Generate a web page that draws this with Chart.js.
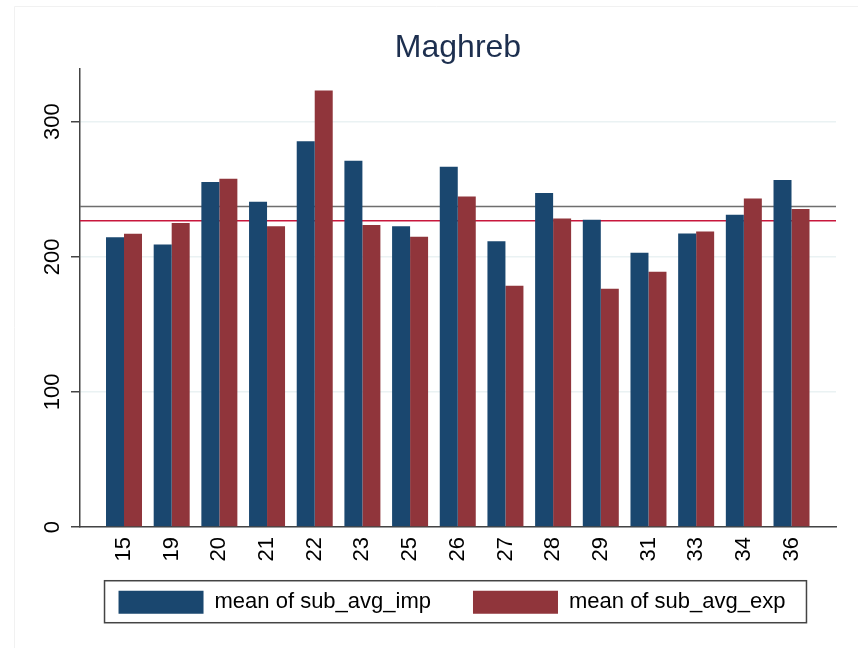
<!DOCTYPE html>
<html>
<head>
<meta charset="utf-8">
<script src="https://cdn.jsdelivr.net/npm/chart.js@4/dist/chart.umd.min.js"></script>
<style>
  html, body { margin: 0; padding: 0; background: #fff; }
  #wrap { width: 858px; height: 648px; }
</style>
</head>
<body>
<div id="wrap"><canvas id="maghrebChart" width="858" height="648"></canvas></div>
<script>
// values
const categories = ['15', '19', '20', '21', '22', '23', '25', '26', '27', '28', '29', '31', '33', '34', '36'];
const impValues = [214.4, 209.2, 255.3, 240.7, 285.5, 271.1, 222.7, 266.7, 211.6, 247.2, 227.4, 203.0, 217.3, 231.1, 256.8];
const expValues = [217.0, 225.0, 257.8, 222.7, 323.0, 223.5, 214.8, 244.7, 178.5, 228.4, 176.3, 188.9, 218.8, 243.2, 235.3];
const meanLines = [237.3, 226.7];
const meanColors = ['#6e6e6e', '#c8173c'];
const yTicks = [0, 100, 200, 300];

const FONT = "'Liberation Sans', Arial, sans-serif";

// horizontal mean lines across the plot region
const meanLinesPlugin = {
  id: 'meanLines',
  beforeDatasetsDraw(chart) {
    const { ctx, chartArea, scales } = chart;
    ctx.save();
    ctx.lineWidth = 1.5;
    meanLines.forEach((v, i) => {
      const y = scales.y.getPixelForValue(v);
      ctx.strokeStyle = meanColors[i];
      ctx.beginPath();
      ctx.moveTo(chartArea.left, y);
      ctx.lineTo(chartArea.right, y);
      ctx.stroke();
    });
    ctx.restore();
  }
};

// pull the legend up under the rotated x labels, faint outer frame, legend box
const framePlugin = {
  id: 'frames',
  afterLayout(chart) {
    const lg = chart.legend;
    if (!lg) return;
    const shift = (chart.chartArea.bottom + 21.7) - lg.top;
    lg.top += shift;
    lg.bottom += shift;
    lg.left -= 6;
    lg.right -= 6;
  },
  beforeDraw(chart) {
    const { ctx, width, height } = chart;
    ctx.save();
    ctx.strokeStyle = '#f1f1f1';
    ctx.lineWidth = 1;
    ctx.beginPath();
    ctx.moveTo(14.5, height);
    ctx.lineTo(14.5, 6.5);
    ctx.lineTo(width, 6.5);
    ctx.stroke();
    ctx.restore();
  },
  afterDraw(chart) {
    const boxes = chart.legend && chart.legend.legendHitBoxes;
    if (!boxes || !boxes.length) return;
    const first = boxes[0];
    const last = boxes[boxes.length - 1];
    const { ctx } = chart;
    const left = first.left - 14;
    const right = last.left + last.width + 21;
    ctx.save();
    ctx.strokeStyle = '#444';
    ctx.lineWidth = 1.5;
    ctx.strokeRect(left, first.top - 10, right - left, first.height + 19);
    ctx.restore();
  }
};

const ctx = document.getElementById('maghrebChart').getContext('2d');
new Chart(ctx, {
  type: 'bar',
  data: {
    datasets: [{
      label: 'mean of sub_avg_imp',
      data: impValues.map((v, i) => ({ x: i, y: v })),
      backgroundColor: '#1a476f',
      borderWidth: 0
    }, {
      label: 'mean of sub_avg_exp',
      data: expValues.map((v, i) => ({ x: i, y: v })),
      backgroundColor: '#90353b',
      borderWidth: 0
    }]
  },
  plugins: [meanLinesPlugin, framePlugin],
  options: {
    responsive: false,
    animation: false,
    categoryPercentage: 0.755,
    barPercentage: 1,
    layout: { padding: { top: 0, right: 22, bottom: 1.5, left: 0 } },
    plugins: {
      title: {
        display: true,
        text: 'Maghreb',
        fullSize: false,
        color: '#1d2f4f',
        font: { family: FONT, size: 32, weight: 'normal' },
        padding: { top: 29, bottom: 1.6 }
      },
      legend: {
        position: 'bottom',
        fullSize: false,
        labels: {
          boxWidth: 85,
          boxHeight: 23,
          padding: 42,
          color: '#000',
          font: { family: FONT, size: 22 }
        }
      },
      tooltip: { enabled: false }
    },
    scales: {
      x: {
        type: 'linear',
        bounds: 'data',
        offset: false,
        min: -0.923,
        max: 14.933,
        afterBuildTicks: (scale) => { scale.ticks = categories.map((c, i) => ({ value: i })); },
        grid: { display: false, drawTicks: false },
        border: { color: '#444', width: 1.5 },
        ticks: {
          includeBounds: false,
          minRotation: 90,
          maxRotation: 90,
          padding: 10,
          color: '#000',
          font: { family: FONT, size: 22 },
          callback: (v) => categories[v]
        }
      },
      y: {
        bounds: 'data',
        min: 0,
        max: 339,
        afterBuildTicks: (scale) => { scale.ticks = yTicks.map(v => ({ value: v })); },
        afterFit: (scale) => { scale.width = 80; },
        grid: { color: '#eaf2f3', lineWidth: 1.5, tickColor: '#444', tickWidth: 1.5, tickLength: 9 },
        border: { color: '#444', width: 1.5 },
        ticks: {
          includeBounds: false,
          minRotation: 90,
          maxRotation: 90,
          crossAlign: 'center',
          padding: 0,
          color: '#000',
          font: { family: FONT, size: 22 }
        }
      }
    }
  }
});
</script>
</body>
</html>
